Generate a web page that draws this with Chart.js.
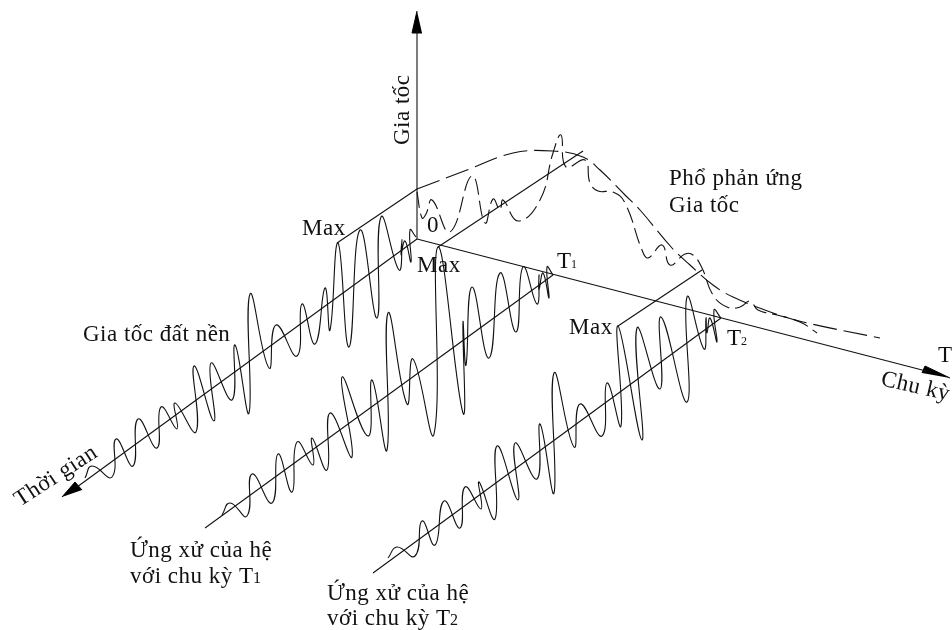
<!DOCTYPE html>
<html lang="en">
<head>
  <meta charset="UTF-8">
  <title>Phổ phản ứng gia tốc</title>
  <script src="https://cdn.jsdelivr.net/npm/chart.js"></script>
  <style>
    html, body { margin: 0; background: #fff; }
    #wrap { width: 952px; height: 630px; }
  </style>
</head>
<body>
  <div id="wrap"><canvas id="spectrumChart" width="952" height="630"></canvas></div>

  <script>
    // traces, in picture units (x right, y down)
    const groundWave = [[85,478],[92,466],[112,477],[116,439],[133,466],[138,419],[157,448],[161,407],[177,429],[175,403],[196,432],[194,366],[214,421],[211,363],[232,400],[235,345],[249,413],[250,294],[269,368],[276,325],[297,356],[302,304],[315,344],[325,288],[330,330],[338,243],[349,347],[360,230],[377,318],[381,217],[399,270],[402,240],[401,255],[405,241],[411,262],[410,230],[416,237]];
    const responseT1 = [[222,515],[230,503],[247,516],[252,474],[272,503],[278,454],[292,492],[297,442],[313,465],[312,438],[327,470],[330,413],[352,457],[342,377],[368,436],[372,380],[387,450],[388,313],[407,404],[413,359],[434,434],[438,247],[463,413],[463,322],[466,365],[472,287],[489,358],[500,273],[516,332],[523,267],[537,304],[539,275],[539,290],[543,273],[549,298],[547,267],[553,275]];
    const responseT2 = [[388,558],[397,547],[415,556],[422,521],[435,545],[444,501],[460,528],[465,487],[481,509],[479,482],[495,519],[497,446],[518,500],[515,443],[537,479],[540,424],[554,493],[554,373],[574,447],[580,404],[602,436],[607,383],[621,426],[618,326],[642,440],[637,328],[660,389],[661,317],[687,402],[687,297],[704,349],[706,318],[707,333],[710,318],[717,342],[714,310],[721,318]];
    const envelope = [[417,189],[467,170],[513,153],[553,151],[583,157],[600,170],[625,195],[640,210],[672,248],[690,265],[713,285],[733,297],[773,313],[803,322],[880,338]];
    const spectrum = [[417,192],[422,218],[426,214],[432,200],[450,232],[472,176],[485,223],[493,199],[500,210],[503,200],[518,221],[540,200],[553,153],[561,135],[566,167],[585,160],[590,183],[598,191],[613,192],[625,203],[642,250],[648,258],[662,245],[670,265],[685,254],[693,255],[702,268],[713,295],[727,307],[740,307],[750,301],[758,310],[777,315],[800,322],[817,333]];

    // straight lines
    const axisAccel = [[417,239],[417,30]];
    const axisPeriod = [[417,239],[926,371]];
    const axisTime = [[417,239],[77,487]];
    const baseT1 = [[205,528],[553,275]];
    const baseT2 = [[373,573],[721,318]];
    const maxGround = [[337,243],[417,189]];
    const maxT1 = [[438,247],[583,151]];
    const maxT2 = [[618,326],[702,270]];

    // arrow heads
    const headAccel = [[417,11],[412,33],[422,33]];
    const headPeriod = [[950,378],[925,366],[922,373]];
    const headTime = [[62,497],[75,482],[82,490]];

    const labelTexts = ['Gia tốc','Max','0','Max','T','1','Max','T','2','T','Chu kỳ','Phổ phản ứng','Gia tốc','Gia tốc đất nền','Thời gian','Ứng xử của hệ','với chu kỳ T','1','Ứng xử của hệ','với chu kỳ T','2'];
    const labelX = [409,302,427,417,557,571,569,727,741,938,880,669,669,83,20,130,130,253,327,327,450];
    const labelY = [145,235,232,272,268,268,334,345,345,362,385,185,212,341,507,557,583,583,600,625,625];
    const labelAngle = [-90,0,0,0,0,0,0,0,0,0,13,0,0,0,-33,0,0,0,0,0,0];
    const labelSize = [23,23,23,23,23,12,23,23,12,23,23,23,23,23,23,23,23,16,23,23,16];

    const toPoints = pts => pts.map(p => ({ x: p[0], y: p[1] }));

    function curve(pts, dash, tension) {
      return { data: toPoints(pts), showLine: true, borderColor: '#111', borderWidth: 1.1, pointRadius: 0, tension: tension, borderDash: dash || [] };
    }
    function straight(pts) {
      return { data: toPoints(pts), showLine: true, borderColor: '#111', borderWidth: 1.1, pointRadius: 0, tension: 0 };
    }
    function head(pts) {
      return { data: toPoints(pts), showLine: true, borderColor: '#000', borderWidth: 1, backgroundColor: '#000', pointRadius: 0, tension: 0, fill: 'shape' };
    }

    const labelPlugin = {
      id: 'diagramLabels',
      afterDraw(chart) {
        const ctx = chart.ctx;
        ctx.save();
        ctx.fillStyle = '#111';
        ctx.textBaseline = 'alphabetic';
        labelTexts.forEach((t, i) => {
          ctx.save();
          ctx.translate(chart.scales.x.getPixelForValue(labelX[i]), chart.scales.y.getPixelForValue(labelY[i]));
          ctx.rotate(labelAngle[i] * Math.PI / 180);
          ctx.font = labelSize[i] + 'px "Liberation Serif", serif';
          ctx.letterSpacing = labelSize[i] > 16 ? '0.5px' : '0px';
          ctx.fillText(t, 0, 0);
          ctx.restore();
        });
        ctx.restore();
      }
    };

    new Chart(document.getElementById('spectrumChart'), {
      type: 'scatter',
      data: {
        datasets: [
          curve(groundWave, null, 0.5), curve(responseT1, null, 0.5), curve(responseT2, null, 0.5),
          curve(envelope, [24, 7], 0.4), curve(spectrum, [16, 6], 0.45),
          straight(axisAccel), straight(axisPeriod), straight(axisTime),
          straight(baseT1), straight(baseT2),
          straight(maxGround), straight(maxT1), straight(maxT2),
          head(headAccel), head(headPeriod), head(headTime)
        ]
      },
      options: {
        responsive: false,
        animation: false,
        layout: { padding: 0 },
        plugins: { legend: { display: false }, tooltip: { enabled: false } },
        scales: {
          x: { type: 'linear', display: false, min: 0, max: 952 },
          y: { type: 'linear', display: false, min: 0, max: 630, reverse: true }
        }
      },
      plugins: [labelPlugin]
    });
  </script>
</body>
</html>
